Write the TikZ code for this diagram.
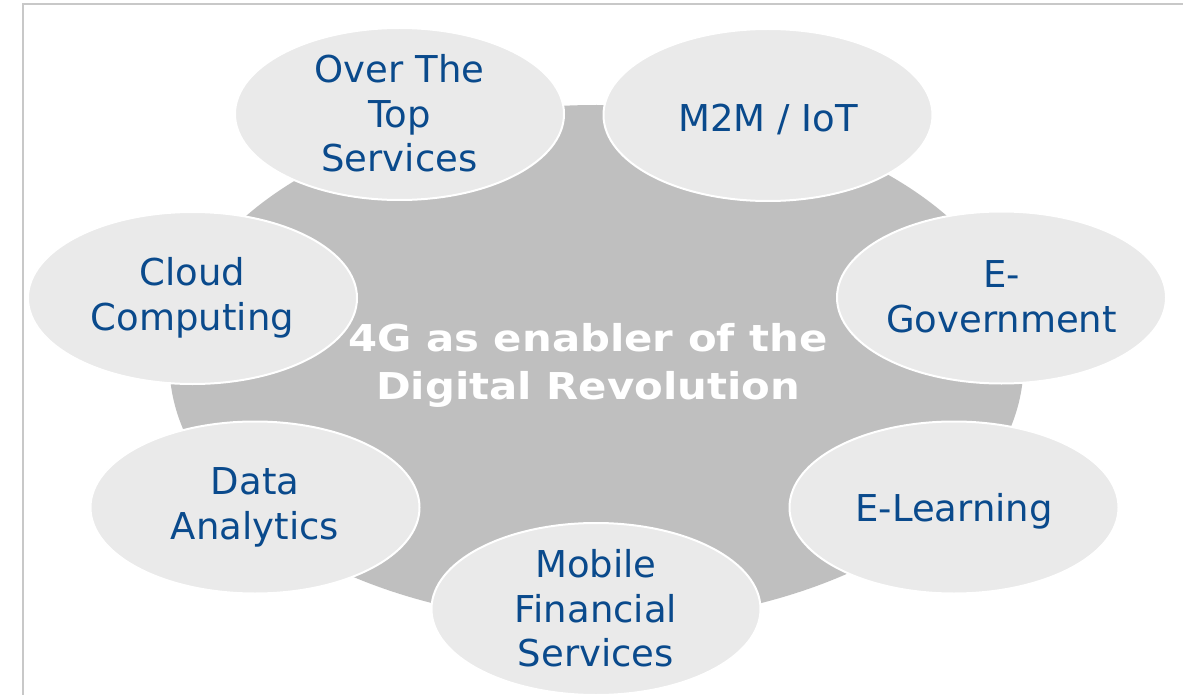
\documentclass[tikz,border=0pt]{standalone}
\usepackage{fontspec}
\setmainfont{DejaVu Sans}
\newfontfamily\hubfont[FakeStretch=1.13]{DejaVu Sans}
\usetikzlibrary{shapes.geometric}
\definecolor{hubgray}{RGB}{191,191,191}
\definecolor{spokegray}{RGB}{234,234,234}
\definecolor{spokeblue}{RGB}{10,74,140}
\definecolor{framegray}{RGB}{200,200,200}
% same line box for every label, so the text sits like in a slide
\newcommand{\spokestrut}{\rule[-2pt]{0pt}{38pt}}
\tikzset{
  hubdisc/.style={ellipse, fill=hubgray, inner sep=0pt,
    minimum width=854pt, minimum height=518pt},
  spoke/.style={ellipse, draw=white, line width=2pt, fill=spokegray,
    inner sep=0pt, minimum width=329pt, minimum height=172pt,
    align=center, text=spokeblue, font=\fontsize{37}{44.5}\selectfont,
    execute at begin node=\spokestrut, execute at end node=\spokestrut},
  hubtext/.style={align=center, text=white, inner sep=0pt,
    font=\hubfont\bfseries\fontsize{37}{48}\selectfont,
    execute at begin node=\spokestrut, execute at end node=\spokestrut},
}

\begin{document}
\begin{tikzpicture}[x=1pt, y=-1pt]
  \useasboundingbox (0,0) rectangle (1183,695);
  \fill[white] (0,0) rectangle (1183,695);
  % frame
  \draw[framegray, line width=2pt] (22.5,700) -- (22.5,4.5) -- (1190,4.5);
  % hub
  \node[hubdisc] (hub) at (596.5,364) {};
  \node[hubtext] (hubtxt) at (588,365) {4G as enabler of the\\Digital Revolution};
  % spokes
  \node[spoke] (ott) at (399.5,114) {Over The\\Top\\Services};
  \node[spoke] (m2m) at (768,115) {M2M / IoT};
  \node[spoke] (egov) at (1001.5,297.5) {E-\\Government};
  \node[spoke] (elearn) at (954,507.5) {E-Learning};
  \node[spoke] (mfs) at (596,609) {Mobile\\Financial\\Services};
  \node[spoke] (data) at (255,507.5) {Data\\Analytics};
  \node[spoke] (cloud) at (192.5,298) {Cloud\\Computing};
\end{tikzpicture}
\end{document}
